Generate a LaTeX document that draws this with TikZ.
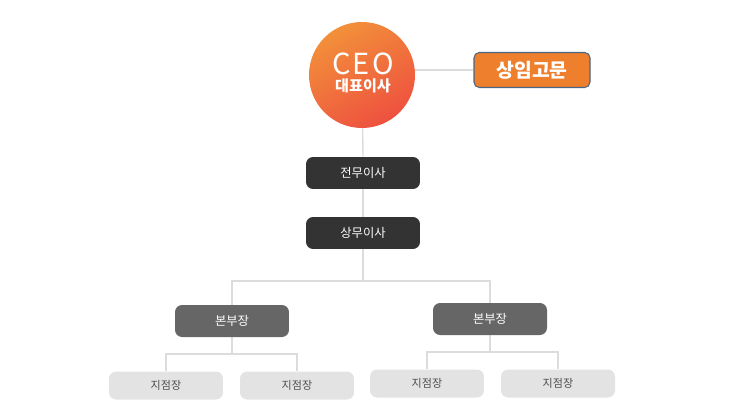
\documentclass[tikz,border=0pt]{standalone}
\usepackage{fontspec}
\newfontfamily\kr{Noto Sans CJK KR}
\usetikzlibrary{positioning,backgrounds}
\definecolor{ceotop}{HTML}{F2903A}
\definecolor{ceobot}{HTML}{EE513F}
\definecolor{advfill}{HTML}{EE7F2D}
\definecolor{advline}{HTML}{4A6684}
\definecolor{execfill}{HTML}{333333}
\definecolor{headfill}{HTML}{666666}
\definecolor{branchfill}{HTML}{E3E3E3}
\definecolor{branchtext}{HTML}{4D4D4D}
\definecolor{wire}{HTML}{DCDCDC}
\tikzset{
 every node/.append style={font=\kr,align=center},
 role/.style={rounded corners=4pt,minimum width=2.28cm,minimum height=.64cm,inner sep=1pt},
 exec/.style={role,fill=execfill,text=white,font=\kr\fontsize{7}{8}\selectfont},
 head/.style={role,fill=headfill,text=white,font=\kr\fontsize{7}{8}\selectfont},
 branch/.style={role,fill=branchfill,text=branchtext,minimum height=.56cm,font=\kr\fontsize{6.3}{7}\selectfont},
 tie/.style={draw=wire,line width=.8pt},
}
\begin{document}
\begin{tikzpicture}[x=.02cm,y=-.02cm]
\useasboundingbox (0,0) rectangle (739,415);
\node[circle,minimum size=2.12cm,inner sep=0pt,top color=ceotop,bottom color=ceobot,shading angle=30] (ceo) at (362,75) {};
\node[text=white,inner sep=0pt] (ceoname) at (363,64) {\fontsize{16.5}{17}\selectfont C\kern1.2pt E\kern1.2pt O};
\node[text=white,inner sep=0pt,below=2pt of ceoname] (ceokr) {\fontsize{8.6}{9}\selectfont\bfseries 대표이사};
\node[role,fill=advfill,draw=advline,line width=.6pt,rounded corners=3pt,minimum width=2.32cm,minimum height=.7cm,text=white,font=\kr\bfseries\fontsize{11}{12}\selectfont] (adv) at (532,70) {상임고문};
\node[exec] (senior) at (363,173) {전무이사};
\node[exec] (managing) at (363,233) {상무이사};
\node[head] (headL) at (232,321) {본부장};
\node[head] (headR) at (490,319) {본부장};
\node[branch] (br1) at (166,385.5) {지점장};
\node[branch] (br2) at (297,385.5) {지점장};
\node[branch] (br3) at (427,383.5) {지점장};
\node[branch] (br4) at (558,383.5) {지점장};
\coordinate (split) at (363,281);
\coordinate (splitL) at (232,354);
\coordinate (splitR) at (490,352);
% wires
\begin{scope}[on background layer]
\draw[tie] (ceo.center |- adv.west) -- (adv.west);
\draw[tie] (ceo.center) -- (senior.north);
\draw[tie] (senior.south) -- (managing.north);
\draw[tie] (managing.south) -- (split);
\draw[tie] (split) -| (headL.north);
\draw[tie] (split) -| (headR.north);
\draw[tie] (headL.south) -- (splitL);
\draw[tie] (splitL) -| (br1.north);
\draw[tie] (splitL) -| (br2.north);
\draw[tie] (headR.south) -- (splitR);
\draw[tie] (splitR) -| (br3.north);
\draw[tie] (splitR) -| (br4.north);
\end{scope}
\end{tikzpicture}
\end{document}
